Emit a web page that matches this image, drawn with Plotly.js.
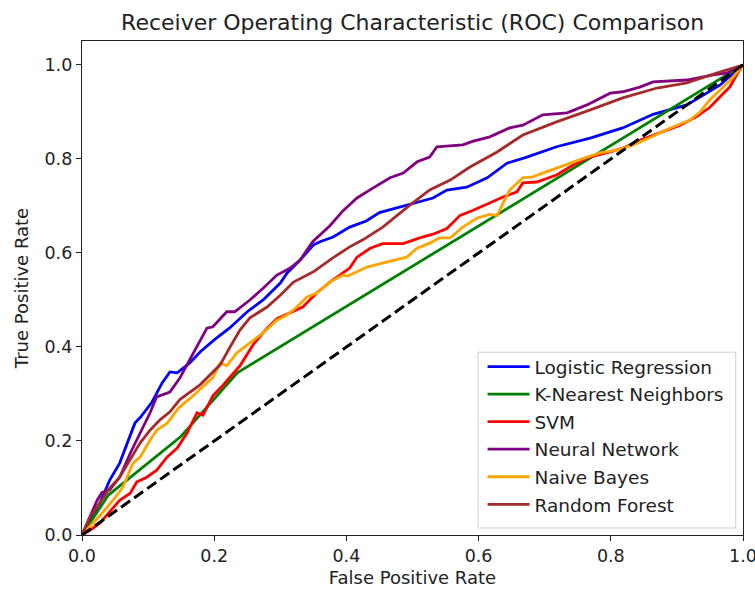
<!DOCTYPE html>
<html>
<head>
<meta charset="utf-8">
<script src="https://cdn.plot.ly/plotly-3.0.1.min.js"></script>
<style>html,body{margin:0;padding:0;background:#fff;}#chart{width:755px;height:592px;}</style>
</head>
<body>
<div id="chart"></div>
<script>
const seriesNames = ["Logistic Regression", "K-Nearest Neighbors", "SVM", "Neural Network", "Naive Bayes", "Random Forest"];
const seriesColors = ["blue", "green", "red", "purple", "orange", "brown"];

const lrFpr = [0, 0.027, 0.042, 0.057, 0.08, 0.088, 0.106, 0.121, 0.133, 0.144, 0.163, 0.179, 0.2, 0.223, 0.25, 0.274, 0.3, 0.31, 0.33, 0.35, 0.36, 0.38, 0.405, 0.43, 0.45, 0.481, 0.531, 0.552, 0.582, 0.613, 0.643, 0.673, 0.718, 0.77, 0.818, 0.864, 0.915, 0.965, 1];
const lrTpr = [0, 0.068, 0.117, 0.153, 0.238, 0.25, 0.283, 0.323, 0.347, 0.345, 0.366, 0.39, 0.415, 0.44, 0.475, 0.5, 0.536, 0.557, 0.585, 0.617, 0.624, 0.634, 0.655, 0.668, 0.686, 0.698, 0.717, 0.734, 0.74, 0.76, 0.791, 0.804, 0.826, 0.845, 0.866, 0.895, 0.915, 0.957, 1];

const knnFpr = [0, 0.04, 0.15, 0.235, 1];
const knnTpr = [0, 0.085, 0.21, 0.345, 1];

const svmFpr = [0, 0.012, 0.027, 0.042, 0.057, 0.073, 0.083, 0.098, 0.113, 0.129, 0.144, 0.159, 0.174, 0.183, 0.198, 0.213, 0.239, 0.259, 0.28, 0.295, 0.315, 0.334, 0.355, 0.375, 0.39, 0.405, 0.416, 0.436, 0.455, 0.486, 0.511, 0.531, 0.552, 0.572, 0.592, 0.613, 0.637, 0.658, 0.667, 0.688, 0.718, 0.743, 0.768, 0.799, 0.818, 0.844, 0.874, 0.905, 0.93, 0.95, 0.965, 0.98, 0.992, 1];
const svmTpr = [0, 0.01, 0.025, 0.049, 0.074, 0.089, 0.113, 0.123, 0.138, 0.166, 0.185, 0.217, 0.26, 0.255, 0.296, 0.318, 0.36, 0.405, 0.44, 0.46, 0.472, 0.485, 0.515, 0.538, 0.553, 0.568, 0.591, 0.61, 0.62, 0.62, 0.632, 0.64, 0.652, 0.68, 0.691, 0.704, 0.719, 0.73, 0.749, 0.751, 0.766, 0.787, 0.804, 0.815, 0.823, 0.84, 0.855, 0.872, 0.89, 0.91, 0.932, 0.953, 0.983, 1];

const nnFpr = [0, 0.023, 0.03, 0.042, 0.057, 0.073, 0.088, 0.103, 0.113, 0.133, 0.148, 0.168, 0.189, 0.198, 0.219, 0.231, 0.254, 0.274, 0.295, 0.315, 0.33, 0.349, 0.375, 0.395, 0.416, 0.44, 0.466, 0.486, 0.507, 0.526, 0.537, 0.576, 0.592, 0.617, 0.647, 0.667, 0.697, 0.734, 0.764, 0.799, 0.818, 0.844, 0.864, 0.915, 0.955, 0.976, 1];
const nnTpr = [0, 0.074, 0.09, 0.096, 0.123, 0.174, 0.217, 0.26, 0.294, 0.304, 0.334, 0.387, 0.44, 0.443, 0.475, 0.475, 0.5, 0.525, 0.553, 0.568, 0.585, 0.624, 0.658, 0.69, 0.717, 0.738, 0.76, 0.77, 0.794, 0.804, 0.826, 0.83, 0.838, 0.847, 0.866, 0.872, 0.894, 0.898, 0.915, 0.94, 0.943, 0.953, 0.964, 0.968, 0.979, 0.983, 1];

const nbFpr = [0, 0.017, 0.032, 0.047, 0.062, 0.077, 0.088, 0.103, 0.113, 0.129, 0.146, 0.163, 0.179, 0.198, 0.209, 0.219, 0.234, 0.254, 0.274, 0.295, 0.31, 0.325, 0.34, 0.355, 0.375, 0.395, 0.402, 0.416, 0.431, 0.45, 0.476, 0.491, 0.507, 0.526, 0.541, 0.557, 0.576, 0.597, 0.617, 0.628, 0.637, 0.647, 0.667, 0.682, 0.697, 0.718, 0.738, 0.764, 0.784, 0.809, 0.834, 0.859, 0.89, 0.92, 0.935, 0.95, 0.97, 0.985, 1];
const nbTpr = [0, 0.025, 0.049, 0.074, 0.102, 0.153, 0.166, 0.202, 0.223, 0.238, 0.27, 0.29, 0.31, 0.335, 0.366, 0.36, 0.387, 0.408, 0.43, 0.457, 0.468, 0.485, 0.506, 0.515, 0.538, 0.553, 0.551, 0.56, 0.57, 0.577, 0.585, 0.591, 0.61, 0.621, 0.632, 0.632, 0.655, 0.674, 0.682, 0.68, 0.706, 0.734, 0.76, 0.762, 0.77, 0.781, 0.791, 0.804, 0.813, 0.819, 0.83, 0.845, 0.866, 0.883, 0.9, 0.926, 0.953, 0.974, 1];

const rfFpr = [0, 0.012, 0.027, 0.042, 0.057, 0.073, 0.088, 0.103, 0.118, 0.133, 0.148, 0.179, 0.209, 0.224, 0.239, 0.254, 0.28, 0.3, 0.32, 0.35, 0.38, 0.405, 0.425, 0.455, 0.476, 0.496, 0.526, 0.557, 0.587, 0.628, 0.667, 0.718, 0.768, 0.818, 0.87, 0.915, 0.965, 1];
const rfTpr = [0, 0.038, 0.068, 0.1, 0.123, 0.16, 0.196, 0.223, 0.245, 0.262, 0.288, 0.32, 0.362, 0.4, 0.436, 0.462, 0.485, 0.51, 0.538, 0.56, 0.59, 0.613, 0.628, 0.655, 0.68, 0.702, 0.734, 0.755, 0.783, 0.815, 0.851, 0.879, 0.904, 0.93, 0.951, 0.962, 0.985, 1];

const chanceX = [0, 1];
const chanceY = [0, 1];

const tickVals = [0, 0.2, 0.4, 0.6, 0.8, 1.0];
const tickText = ["0.0", "0.2", "0.4", "0.6", "0.8", "1.0"];

const xs = [lrFpr, knnFpr, svmFpr, nnFpr, nbFpr, rfFpr];
const ys = [lrTpr, knnTpr, svmTpr, nnTpr, nbTpr, rfTpr];

const traces = seriesNames.map((n, i) => ({
  x: xs[i], y: ys[i], type: 'scatter', mode: 'lines', name: n,
  legendgroup: 'g' + i,
  line: {color: seriesColors[i], width: 2.8}
}));
traces.push({
  x: chanceX, y: chanceY, type: 'scatter', mode: 'lines', showlegend: false,
  line: {color: 'black', width: 3, dash: '11px,5px'}
});

const font = "DejaVu Sans, sans-serif";
const layout = {
  width: 755, height: 592,
  margin: {l: 82, r: 12, t: 41, b: 57},
  paper_bgcolor: 'white', plot_bgcolor: 'white',
  font: {family: font, color: '#222', size: 17.5},
  title: {text: 'Receiver Operating Characteristic (ROC) Comparison', font: {family: font, size: 22, color: '#222'}, x: 0.5465, xanchor: 'center', y: 0.962, yanchor: 'middle'},
  xaxis: {
    range: [0, 1], tickvals: tickVals, ticktext: tickText, ticklabeloverflow: 'allow',
    showgrid: false, zeroline: false, showline: true, mirror: true, linecolor: '#222', linewidth: 1.2,
    ticks: 'outside', ticklen: 5, tickcolor: '#222', tickfont: {size: 17.5, family: font},
    title: {text: 'False Positive Rate', font: {size: 18, family: font}, standoff: 6}
  },
  yaxis: {
    range: [0, 1.051], tickvals: tickVals, ticktext: tickText, ticklabeloverflow: 'allow',
    showgrid: false, zeroline: false, showline: true, mirror: true, linecolor: '#222', linewidth: 1.2,
    ticks: 'outside', ticklen: 5, tickcolor: '#222', tickfont: {size: 17.5, family: font},
    title: {text: 'True Positive Rate', font: {size: 18, family: font}, standoff: 11}
  },
  shapes: [{
    type: 'rect', xref: 'paper', yref: 'paper', layer: 'above',
    x0: 0.599, x1: 0.989, y0: 0.0142, y1: 0.370,
    fillcolor: 'rgba(255,255,255,0.85)', line: {color: '#d0d0d0', width: 1}
  }],
  legend: {
    x: 0.606, y: 0.3785, xanchor: 'left', yanchor: 'top',
    bgcolor: 'rgba(0,0,0,0)', borderwidth: 0,
    font: {size: 18.5, family: font, color: '#222'},
    traceorder: 'grouped', tracegroupgap: 0.5, itemwidth: 42
  },
  showlegend: true
};

Plotly.newPlot('chart', traces, layout, {displayModeBar: false, staticPlot: true});
</script>
</body>
</html>
